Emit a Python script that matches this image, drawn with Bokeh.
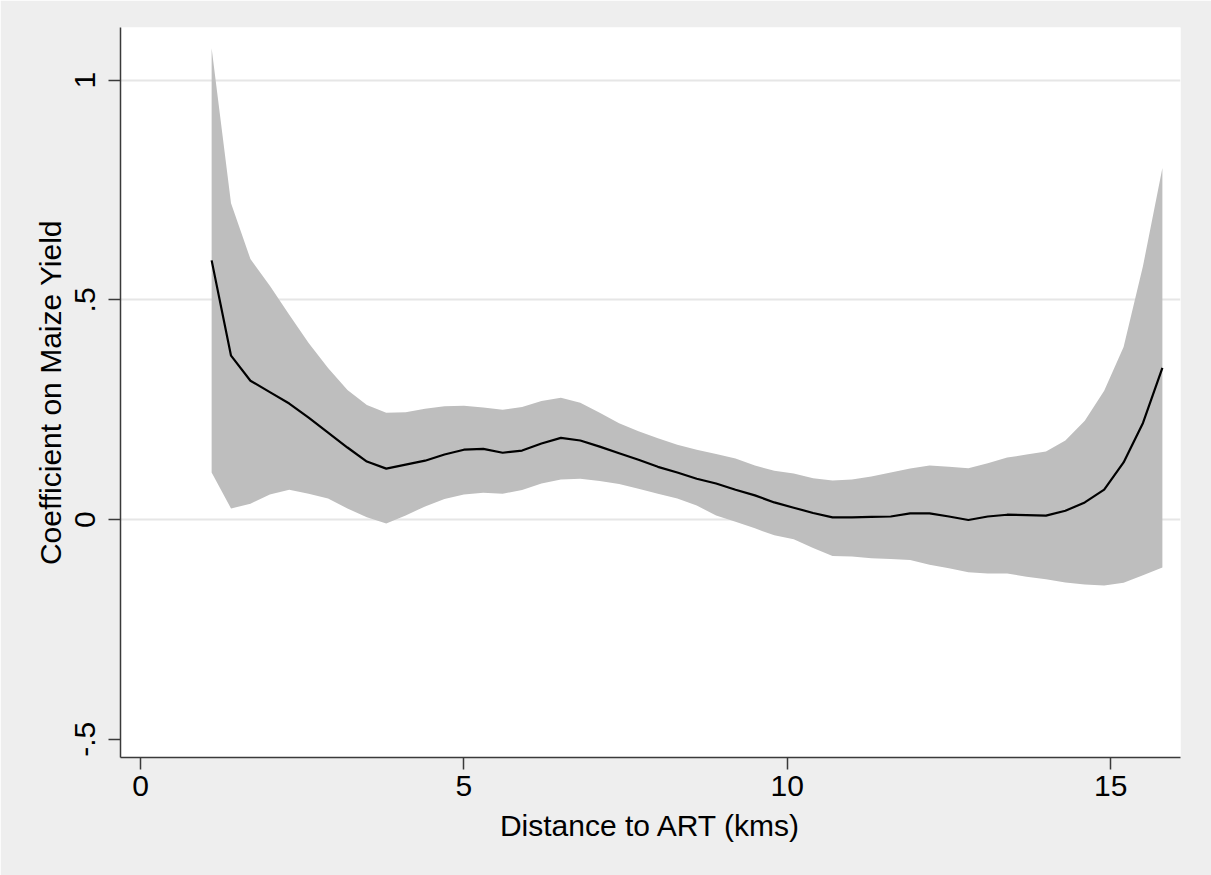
from bokeh.plotting import figure
from bokeh.models import FixedTicker, Range1d
from bokeh.embed import file_html
from bokeh.resources import INLINE

# Distance to ART (kms)
distance = [1.1, 1.4, 1.7, 2.0, 2.3, 2.6, 2.9, 3.2, 3.5, 3.8,
            4.1, 4.4, 4.7, 5.0, 5.3, 5.6, 5.9, 6.2, 6.5, 6.8,
            7.1, 7.4, 7.7, 8.0, 8.3, 8.6, 8.9, 9.2, 9.5, 9.8,
            10.1, 10.4, 10.7, 11.0, 11.3, 11.6, 11.9, 12.2, 12.5, 12.8,
            13.1, 13.4, 13.7, 14.0, 14.3, 14.6, 14.9, 15.2, 15.5, 15.8]

# Point estimate of coefficient on maize yield
coef = [0.590, 0.373, 0.316, 0.290, 0.264, 0.232, 0.198, 0.164, 0.132, 0.116,
        0.125, 0.134, 0.148, 0.159, 0.161, 0.152, 0.157, 0.173, 0.186, 0.180,
        0.166, 0.151, 0.136, 0.120, 0.107, 0.093, 0.082, 0.068, 0.055, 0.039,
        0.027, 0.015, 0.005, 0.005, 0.006, 0.007, 0.014, 0.014, 0.007, -0.001,
        0.007, 0.011, 0.010, 0.009, 0.020, 0.039, 0.068, 0.130, 0.220, 0.345]

# Upper confidence bound
upper = [1.073, 0.720, 0.593, 0.532, 0.466, 0.402, 0.345, 0.295, 0.261, 0.243,
         0.244, 0.252, 0.258, 0.259, 0.255, 0.250, 0.256, 0.270, 0.277, 0.266,
         0.243, 0.219, 0.201, 0.185, 0.170, 0.159, 0.149, 0.139, 0.123, 0.111,
         0.105, 0.094, 0.089, 0.091, 0.098, 0.107, 0.116, 0.123, 0.120, 0.117,
         0.128, 0.141, 0.148, 0.155, 0.180, 0.225, 0.293, 0.393, 0.577, 0.800]

# Lower confidence bound
lower = [0.107, 0.025, 0.036, 0.057, 0.068, 0.059, 0.048, 0.025, 0.005, -0.009,
         0.009, 0.030, 0.047, 0.057, 0.061, 0.059, 0.067, 0.082, 0.091, 0.093,
         0.088, 0.081, 0.070, 0.059, 0.048, 0.032, 0.009, -0.005, -0.020, -0.036,
         -0.045, -0.065, -0.083, -0.084, -0.088, -0.090, -0.092, -0.103, -0.111, -0.120,
         -0.123, -0.123, -0.130, -0.136, -0.143, -0.148, -0.150, -0.144, -0.127, -0.109]

x_ticks = [0, 5, 10, 15]
y_ticks = [-0.5, 0, 0.5, 1]
y_tick_labels = {-0.5: "-.5", 0: "0", 0.5: ".5", 1: "1"}
y_grid_ticks = [0, 0.5, 1]

FONT = "Liberation Sans"
AXIS_COLOR = "#3a3a3a"

p = figure(width=1211, height=875, output_backend="svg", toolbar_location=None,
           x_range=Range1d(-0.309, 16.08), y_range=Range1d(-0.5416, 1.12),
           min_border_left=120, min_border_top=27, min_border_right=31,
           min_border_bottom=118)

p.background_fill_color = "white"
p.border_fill_color = "#eeeeee"
p.outline_line_color = None

p.varea(x=distance, y1=lower, y2=upper, fill_color="#bebebe", fill_alpha=1.0)
p.line(x=distance, y=coef, line_color="black", line_width=2.2)

# grid
p.xgrid.visible = False
p.ygrid.ticker = FixedTicker(ticks=y_grid_ticks)
p.ygrid.grid_line_color = "#e6e6e6"
p.ygrid.grid_line_width = 2

# axes
p.xaxis.ticker = FixedTicker(ticks=x_ticks)
p.yaxis.ticker = FixedTicker(ticks=y_ticks)
p.yaxis.major_label_overrides = y_tick_labels
p.yaxis.major_label_orientation = "vertical"

for ax in (p.xaxis, p.yaxis):
    ax.axis_line_color = AXIS_COLOR
    ax.axis_line_width = 1.5
    ax.major_tick_line_color = AXIS_COLOR
    ax.major_tick_line_width = 1.5
    ax.major_tick_out = 12
    ax.major_tick_in = 0
    ax.minor_tick_line_color = None
    ax.major_label_text_font = FONT
    ax.major_label_text_font_size = "30px"
    ax.major_label_text_color = "black"
    ax.axis_label_text_font = FONT
    ax.axis_label_text_font_size = "30px"
    ax.axis_label_text_font_style = "normal"
    ax.axis_label_text_color = "black"

p.xaxis.axis_label = "Distance to ART (kms)"
p.yaxis.axis_label = "Coefficient on Maize Yield"
p.xaxis.major_label_standoff = 6
p.yaxis.major_label_standoff = 13
p.xaxis.axis_label_standoff = 10
p.yaxis.axis_label_standoff = 6

open("out.html", "w").write(file_html(p, INLINE))
